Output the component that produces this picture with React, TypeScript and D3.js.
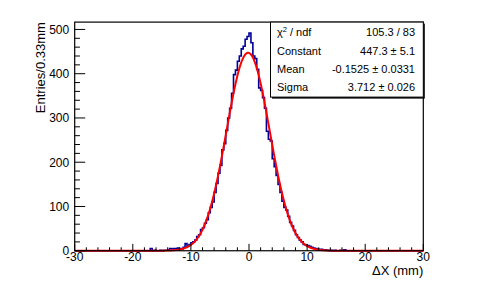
import React, { useLayoutEffect, useRef } from "react";
import * as d3 from "d3";

// histogram range and bin contents (180 bins of 0.33 mm)
const xRange = [-30, 30];
const counts = [
  0, 0, 0, 0, 0, 0, 0, 0, 0, 0,
  0, 0, 0, 0, 0, 0, 0, 0, 0, 0,
  0, 0, 0, 0, 0, 0, 0, 0, 0, 0,
  0, 0, 0, 0, 0, 0, 0, 0, 0, 5,
  0, 1, 0, 0, 1, 0, 1, 1, 2, 5,
  4, 5, 5, 6, 5, 4, 8, 16, 10, 14,
  18, 20, 24, 32, 36, 48, 52, 62, 70, 86,
  98, 110, 132, 152, 175, 193, 228, 242, 272, 300,
  322, 356, 398, 408, 428, 440, 456, 462, 478, 484,
  492, 470, 440, 434, 410, 368, 362, 346, 322, 270,
  252, 248, 208, 190, 170, 150, 132, 112, 98, 92,
  78, 64, 56, 46, 36, 30, 24, 20, 14, 13,
  12, 10, 8, 6, 5, 4, 3, 3, 2, 2,
  1, 0, 1, 0, 1, 0, 0, 1, 0, 2,
  0, 0, 0, 0, 0, 0, 0, 0, 0, 0,
  0, 0, 0, 0, 0, 0, 0, 0, 0, 0,
  0, 0, 0, 0, 0, 0, 0, 0, 0, 0,
  0, 0, 0, 0, 0, 0, 0, 0, 0, 0,
];

const xTicks = [-30, -20, -10, 0, 10, 20, 30];
const yTicks = [0, 100, 200, 300, 400, 500];

// gaussian fit result
const fitConstant = 447.3;
const fitMean = -0.1525;
const fitSigma = 3.712;

const statLabels = ["χ", "Constant", "Mean", "Sigma"];
const statValues = ["105.3 / 83", "447.3 ± 5.1", "-0.1525 ± 0.0331", "3.712 ± 0.026"];

const W = 498;
const H = 295;
const frame = { left: 74.7, right: 423.3, top: 22.1, bottom: 250.75 };
const font = "'Liberation Sans', Arial, Helvetica, sans-serif";

export default function App() {
  const ref = useRef<SVGSVGElement>(null);

  useLayoutEffect(() => {
    const svg = d3.select(ref.current);
    svg.selectAll("*").remove();

    const nb = counts.length;
    const bw = (xRange[1] - xRange[0]) / nb;

    const x = d3.scaleLinear().domain(xRange).range([frame.left, frame.right]);
    const y = d3
      .scaleLinear()
      .domain([0, (d3.max(counts) as number) * 1.05])
      .range([frame.bottom, frame.top]);

    svg.attr("font-family", font);

    // histogram step line
    const pts: [number, number][] = [];
    counts.forEach((c, i) => {
      const lo = xRange[0] + i * bw;
      pts.push([x(lo), y(c)]);
      pts.push([x(lo + bw), y(c)]);
    });
    svg
      .append("path")
      .attr("d", d3.line()(pts))
      .attr("fill", "none")
      .attr("stroke", "#000099")
      .attr("stroke-width", 1.6);

    // fit curve
    const fx = d3.range(xRange[0], xRange[1] + 0.001, 0.05);
    const fitLine = d3
      .line<number>()
      .x((d) => x(d))
      .y((d) => y(fitConstant * Math.exp(-0.5 * ((d - fitMean) / fitSigma) ** 2)))
      .curve(d3.curveLinear);
    svg
      .append("path")
      .attr("d", fitLine(fx))
      .attr("fill", "none")
      .attr("stroke", "#ff0000")
      .attr("stroke-width", 2);

    // frame
    svg
      .append("rect")
      .attr("x", frame.left)
      .attr("y", frame.top)
      .attr("width", frame.right - frame.left)
      .attr("height", frame.bottom - frame.top)
      .attr("fill", "none")
      .attr("stroke", "black")
      .attr("stroke-width", 1.2);

    // x axis, ticks point inside the frame
    const xMajor = 6.9;
    const gx = svg.append("g");
    x.ticks(30).forEach((t) => {
      const major = xTicks.includes(t);
      gx.append("line")
        .attr("x1", x(t))
        .attr("x2", x(t))
        .attr("y1", frame.bottom)
        .attr("y2", frame.bottom - (major ? xMajor : xMajor / 2))
        .attr("stroke", "black");
    });
    xTicks.forEach((t) => {
      gx.append("text")
        .attr("x", x(t))
        .attr("y", frame.bottom + 10.5)
        .attr("text-anchor", "middle")
        .attr("font-size", 12)
        .text(t);
    });

    // y axis
    const yMajor = 10.5;
    const gy = svg.append("g");
    d3.range(0, 520, 20).forEach((t) => {
      const major = yTicks.includes(t);
      gy.append("line")
        .attr("x1", frame.left)
        .attr("x2", frame.left + (major ? yMajor : yMajor / 2))
        .attr("y1", y(t))
        .attr("y2", y(t))
        .attr("stroke", "black");
    });
    yTicks.forEach((t) => {
      gy.append("text")
        .attr("x", frame.left - 5.5)
        .attr("y", y(t))
        .attr("dy", "0.36em")
        .attr("text-anchor", "end")
        .attr("font-size", 12)
        .text(t);
    });

    // axis titles
    svg
      .append("text")
      .attr("x", frame.right)
      .attr("y", 275)
      .attr("text-anchor", "end")
      .attr("font-size", 13)
      .text("ΔX (mm)");
    svg
      .append("text")
      .attr("transform", `translate(45,${frame.top}) rotate(-90)`)
      .attr("text-anchor", "end")
      .attr("font-size", 13)
      .text("Entries/0.33mm");

    // stats box
    const bx = 270.5;
    const by = frame.top;
    const bwid = frame.right - bx;
    const bh = 75;
    svg
      .append("rect")
      .attr("x", bx + 1.5)
      .attr("y", by + 1.5)
      .attr("width", bwid)
      .attr("height", bh)
      .attr("fill", "black");
    svg
      .append("rect")
      .attr("x", bx)
      .attr("y", by)
      .attr("width", bwid)
      .attr("height", bh)
      .attr("fill", "white")
      .attr("stroke", "black")
      .attr("stroke-width", 1);

    const rowY = [35.7, 54.7, 73.3, 91.3];
    statLabels.forEach((lab, i) => {
      const t = svg
        .append("text")
        .attr("x", 277)
        .attr("y", rowY[i])
        .attr("font-size", 11)
        .text(lab);
      if (i === 0) {
        t.append("tspan").attr("font-size", 7.5).attr("dy", -4).text("2");
        t.append("tspan").attr("dy", 4).text(" / ndf");
      }
      svg
        .append("text")
        .attr("x", 415)
        .attr("y", rowY[i])
        .attr("text-anchor", "end")
        .attr("font-size", 11)
        .text(statValues[i]);
    });
  }, []);

  return (
    <div style={{ position: "fixed", left: 0, top: 0, background: "white" }}>
      <svg ref={ref} width={W} height={H} style={{ display: "block" }}></svg>
    </div>
  );
}
